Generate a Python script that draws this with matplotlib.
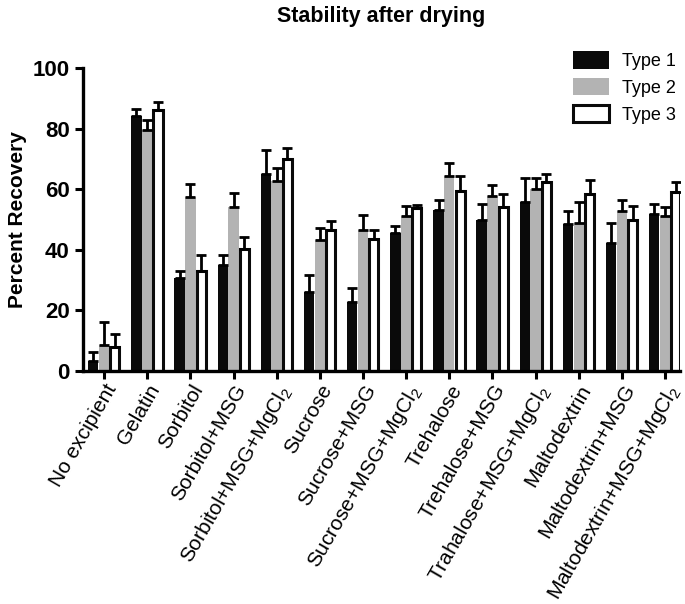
import matplotlib
matplotlib.use('Agg')
from matplotlib import pyplot as plt
import numpy as np

plt.rcParams['font.family'] = ['Liberation Sans', 'DejaVu Sans']
plt.rcParams['mathtext.default'] = 'regular'

categories = ['No excipient', 'Gelatin', 'Sorbitol', 'Sorbitol+MSG', 'Sorbitol+MSG+MgCl$_2$',
              'Sucrose', 'Sucrose+MSG', 'Sucrose+MSG+MgCl$_2$', 'Trehalose', 'Trehalose+MSG',
              'Trahalose+MSG+MgCl$_2$', 'Maltodextrin', 'Maltodextrin+MSG',
              'Maltodextrin+MSG+MgCl$_2$']

type1 = [3.4, 84.1, 30.7, 35.0, 65.0, 26.0, 22.8, 45.5, 53.0, 49.9, 55.7, 48.5, 42.3, 51.8]
type1_err = [2.9, 2.4, 2.4, 3.3, 8.0, 5.7, 4.7, 2.4, 3.3, 5.4, 7.9, 4.4, 6.6, 3.5]
type2 = [8.7, 79.5, 57.5, 54.1, 62.9, 43.2, 46.4, 51.2, 64.3, 57.8, 60.0, 48.9, 52.9, 51.2]
type2_err = [7.3, 3.3, 4.4, 4.7, 4.2, 4.1, 5.0, 3.3, 4.3, 3.5, 3.7, 6.9, 3.5, 2.8]
type3 = [7.9, 86.2, 32.9, 40.3, 70.0, 46.4, 43.5, 53.8, 59.6, 54.1, 62.3, 58.4, 49.7, 59.0]
type3_err = [4.3, 2.5, 5.5, 3.9, 3.5, 3.1, 3.0, 1.1, 4.7, 4.5, 2.8, 4.6, 4.7, 3.4]

x = np.arange(len(categories))
w = 0.24

fig = plt.figure(figsize=(6.85, 6.04), dpi=100)
ax = fig.add_axes([0.121, 0.386, 0.872, 0.501])

ekw = dict(ecolor='black', elinewidth=2.0, capsize=3.5, capthick=2.0)
z = np.zeros(len(x))
ax.bar(x - 0.25, type1, w, color='#0a0a0a', label='Type 1',
       yerr=[z, type1_err], error_kw=ekw)
ax.bar(x, type2, w, color='#b3b3b3', label='Type 2',
       yerr=[z, type2_err], error_kw=ekw)
ax.bar(x + 0.25, type3, w - 0.03, color='white', edgecolor='#0a0a0a', linewidth=2.2,
       label='Type 3', yerr=[z, type3_err], error_kw=ekw)

ax.set_xlim(-0.49, 13.35)
ax.set_ylim(0, 100)
ax.set_yticks([0, 20, 40, 60, 80, 100])
for lab in ax.get_yticklabels():
    lab.set_fontweight('bold')
ax.tick_params(axis='y', labelsize=16, width=2.2, length=6)
ax.tick_params(axis='x', labelsize=15, width=2.2, length=6, pad=1.5)
ax.set_xticks(x)
ax.set_xticklabels(categories, rotation=60, ha='right', rotation_mode='anchor')

ax.spines['top'].set_visible(False)
ax.spines['right'].set_visible(False)
ax.spines['left'].set_linewidth(2.4)
ax.spines['bottom'].set_linewidth(2.4)

ax.set_ylabel('Percent Recovery', fontsize=15, fontweight='bold')
ax.set_title('Stability after drying', fontsize=15.5, fontweight='bold', pad=33)

ax.legend(loc='upper right', bbox_to_anchor=(1.02, 1.11), frameon=False,
          fontsize=13, handlelength=2.0, handleheight=1.1, handletextpad=0.7,
          labelspacing=0.45)

plt.savefig('out.png', dpi=100)
